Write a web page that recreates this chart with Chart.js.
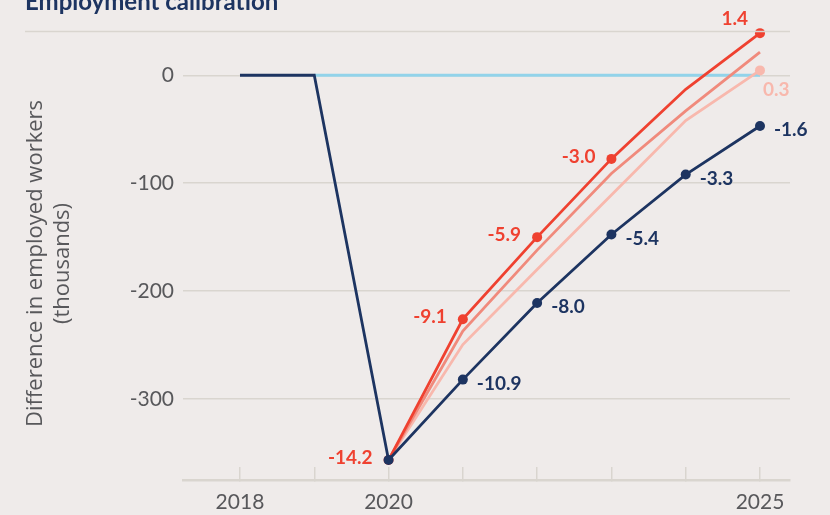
<!DOCTYPE html>
<html>
<head>
<meta charset="utf-8">
<script src="https://cdn.jsdelivr.net/npm/chart.js@4/dist/chart.umd.min.js"></script>
<style>
  html, body { margin: 0; padding: 0; background: #efebea; }
  #wrap { width: 830px; height: 515px; position: relative; }
</style>
</head>
<body>
<div id="wrap"><canvas id="c" width="830" height="515"></canvas></div>
<script>
// ---- Data ----
const years = [2018, 2019, 2020, 2021, 2022, 2023, 2024, 2025];
const xTickYears = [2018, 2020, 2025];
const yTicks = [0, -100, -200, -300];

const navySeries   = [0, 0, -356.5, -282, -211, -147.5, -92, -47];
const redSeries    = [null, null, -356.5, -226, -150, -77.5, -13, 39];
const salmonSeries = [null, null, -356.5, -237, -162, -91, -33, 21.5];
const pinkSeries   = [null, null, -356.5, -249.5, -180, -111, -42, 4.5];
const zeroSeries   = [null, 0, 0, 0, 0, 0, 0, 0];

const navyLabels = [null, null, null, '-10.9', '-8.0', '-5.4', '-3.3', '-1.6'];
const redLabels  = [null, null, '-14.2', '-9.1', '-5.9', '-3.0', null, '1.4'];
const pinkLabels = [null, null, null, null, null, null, null, '0.3'];

const title = 'Employment calibration';
const yTitle = ['Difference in employed workers', '(thousands)'];

// ---- Styles ----
const C = {
  navy: '#1d3461', red: '#ef4130', salmon: '#f08a7c', pink: '#f8b8ad',
  blue: '#92d3ea', grid: '#d9d5cf', text: '#58585b'
};
const toXY = arr => years.map((y, i) => ({ x: y, y: arr[i] }));

const decor = {
  id: 'decor',
  afterDraw(chart) {
    const ctx = chart.ctx;
    ctx.save();
    // title
    ctx.fillStyle = C.navy;
    ctx.font = 'bold 24px Lato';
    ctx.textAlign = 'left';
    ctx.textBaseline = 'alphabetic';
    ctx.fillText(title, 25, 10);
    // separator line
    ctx.strokeStyle = C.grid;
    ctx.lineWidth = 1.5;
    ctx.beginPath();
    ctx.moveTo(25, 31.5);
    ctx.lineTo(chart.chartArea.right, 31.5);
    ctx.stroke();
    // y axis title
    const cy = (chart.chartArea.top + chart.chartArea.bottom) / 2 + 8;
    ctx.fillStyle = C.text;
    ctx.font = '22px "Open Sans"';
    ctx.textAlign = 'center';
    ctx.textBaseline = 'middle';
    [36, 63].forEach((x, i) => {
      ctx.save();
      ctx.translate(x, cy);
      ctx.rotate(-Math.PI / 2);
      ctx.fillText(yTitle[i], 0, 0);
      ctx.restore();
    });
    ctx.restore();
  },
  afterDatasetsDraw(chart) {
    const ctx = chart.ctx;
    ctx.save();
    ctx.font = 'bold 19px Lato';
    ctx.textBaseline = 'middle';
    const pts = i => chart.getDatasetMeta(i).data;
    pts(0).forEach((p, j) => {
      if (!navyLabels[j]) return;
      ctx.fillStyle = C.navy; ctx.textAlign = 'left';
      ctx.fillText(navyLabels[j], p.x + 14, p.y + 4);
    });
    pts(1).forEach((p, j) => {
      if (!redLabels[j]) return;
      ctx.fillStyle = C.red; ctx.textAlign = 'right';
      if (j === years.length - 1) {
        ctx.fillText(redLabels[j], p.x - 12, p.y - 14);
      } else {
        ctx.fillText(redLabels[j], p.x - 16, p.y - 2);
      }
    });
    pts(3).forEach((p, j) => {
      if (!pinkLabels[j]) return;
      ctx.fillStyle = C.pink; ctx.textAlign = 'left';
      ctx.fillText(pinkLabels[j], p.x + 3, p.y + 19);
    });
    ctx.restore();
  }
};

new Chart(document.getElementById('c'), {
  type: 'line',
  data: {
    datasets: [
      { data: toXY(navySeries), borderColor: C.navy, backgroundColor: C.navy, borderWidth: 2.8,
        pointRadius: ctx => ctx.dataIndex >= 2 ? 5 : 0, pointBorderWidth: 0, clip: false },
      { data: toXY(redSeries), borderColor: C.red, backgroundColor: C.red, borderWidth: 2.8,
        pointRadius: ctx => redLabels[ctx.dataIndex] ? 5 : 0, pointBorderWidth: 0, clip: false },
      { data: toXY(salmonSeries), borderColor: C.salmon, backgroundColor: C.salmon, borderWidth: 2.8,
        pointRadius: 0, clip: false },
      { data: toXY(pinkSeries), borderColor: C.pink, backgroundColor: C.pink, borderWidth: 2.8,
        pointRadius: ctx => pinkLabels[ctx.dataIndex] ? 5 : 0, pointBorderWidth: 0, clip: false },
      { data: toXY(zeroSeries), borderColor: C.blue, borderWidth: 3, pointRadius: 0, clip: false }
    ]
  },
  options: {
    responsive: false,
    animation: false,
    events: [],
    layout: { padding: { top: 31, right: 40, left: 0, bottom: 0 } },
    plugins: { legend: { display: false }, tooltip: { enabled: false } },
    scales: {
      x: {
        type: 'linear',
        min: 2017.233, max: 2025.404,
        afterFit: s => { s.height = 35; },
        grid: { display: true, drawOnChartArea: false, drawTicks: true, tickLength: -13,
                color: C.grid, lineWidth: 1.5 },
        border: { display: true, color: C.grid, width: 2.5 },
        ticks: {
          stepSize: 1, includeBounds: false, autoSkip: false, maxRotation: 0,
          padding: 23, color: C.text, font: { family: 'Lato', size: 21 },
          callback: v => xTickYears.includes(v) ? String(v) : ''
        }
      },
      y: {
        min: -375, max: 41,
        afterFit: s => { s.width = 183; },
        grid: { color: C.grid, lineWidth: 1.5, drawTicks: false },
        border: { display: false },
        ticks: {
          stepSize: 100, includeBounds: false, padding: 9, color: C.text,
          font: { family: 'Lato', size: 21 },
          callback: v => yTicks.includes(v) ? String(v) : ''
        }
      }
    }
  },
  plugins: [decor]
});
</script>
</body>
</html>
